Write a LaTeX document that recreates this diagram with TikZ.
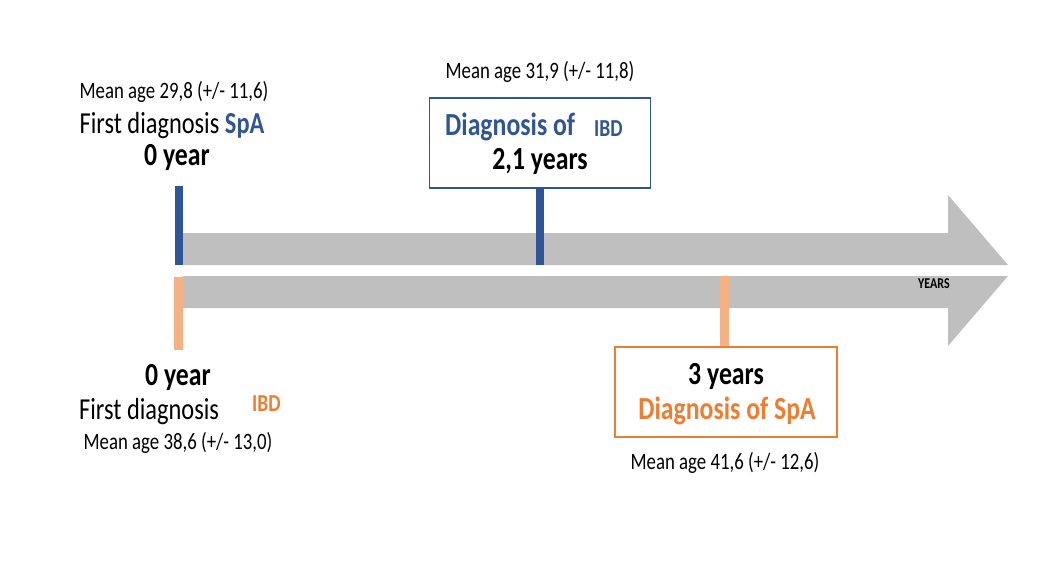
\documentclass[tikz,border=0pt]{standalone}
\usepackage{fontspec}
\setmainfont[FakeStretch=0.8]{Carlito}
\definecolor{spablue}{HTML}{2F5597}
\definecolor{ibdorange}{HTML}{ED7D31}
\definecolor{barorange}{HTML}{F4B183}
\definecolor{axisgray}{HTML}{BFBFBF}
\tikzset{
  small/.style={font=\fontsize{23.5}{26}\selectfont, inner sep=0pt},
  big/.style={font=\fontsize{30.5}{34}\selectfont, inner sep=0pt},
  bigb/.style={font=\bfseries\fontsize{32.2}{36}\selectfont, inner sep=0pt},
  tag/.style={font=\bfseries\fontsize{24.4}{28}\selectfont, inner sep=0pt},
  bluebox/.style={draw=spablue, line width=1.3pt, minimum width=221pt, minimum height=90pt, inner sep=0pt},
  orangebox/.style={draw=ibdorange, line width=1.3pt, minimum width=222pt, minimum height=90pt, inner sep=0pt},
  bluebar/.style={draw=none, fill=spablue},
  orangebar/.style={draw=none, fill=barorange},
}
\begin{document}
\begin{tikzpicture}[x=1pt,y=-1pt]
\useasboundingbox (0,0) rectangle (1063,563);
% timeline arrows
\fill[axisgray] (183,233) -- (948,233) -- (948,195) -- (1008,265) -- (183,265) -- cycle;
\fill[axisgray] (183,276) -- (1008,276) -- (948,346) -- (948,308) -- (183,308) -- cycle;
\node[font=\bfseries\fontsize{15}{17}\selectfont, inner sep=0pt] (years) at (934,284) {YEARS};
% upper first diagnosis
\node[small] (m1) at (174,92) {Mean age 29,8 (+/- 11,6)};
\node[big] (f1) at (172,126) {First diagnosis \textcolor{spablue}{\bfseries SpA}};
\node[bigb] (y1) at (177,157) {0 year};
\fill[bluebar] (175,186) rectangle (183,265);
% upper box
\node[small] (m2) at (540,72) {Mean age 31,9 (+/- 11,8)};
\node[bluebox] (box1) at (540,143) {};
\node[bigb, text=spablue, anchor=west] (d1) at (445,127) {Diagnosis of};
\node[tag, text=spablue, anchor=west] (ibd1) at (594,129) {IBD};
\node[bigb] (y2) at (540,161) {2,1 years};
\fill[bluebar] ([xshift=-4.5pt]box1.south) rectangle (544,265);
% lower first diagnosis
\fill[orangebar] (174,277) rectangle (183,350);
\node[bigb] (y3) at (178,377) {0 year};
\node[big, anchor=west] (f2) at (79,412) {First diagnosis};
\node[tag, text=ibdorange, anchor=west] (ibd2) at (252,404) {IBD};
\node[small] (m3) at (178,443) {Mean age 38,6 (+/- 13,0)};
% lower box
\node[orangebox] (box2) at (726,392) {};
\fill[orangebar] (720,276) rectangle ([xshift=2.5pt]box2.north);
\node[bigb] (y4) at (726,376) {3 years};
\node[bigb, text=ibdorange] (d2) at (727,411) {Diagnosis of SpA};
\node[small] (m4) at (725,463) {Mean age 41,6 (+/- 12,6)};
\end{tikzpicture}
\end{document}
